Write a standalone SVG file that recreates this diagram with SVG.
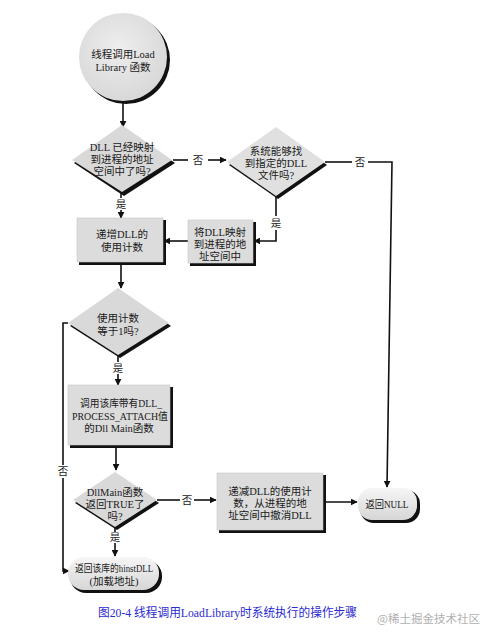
<svg xmlns="http://www.w3.org/2000/svg" width="482" height="641" viewBox="0 0 482 641">
<defs>
<style>
.t{font-family:"Liberation Serif","Noto Sans CJK SC",serif;font-size:10.5px;fill:#1a1a1a;text-anchor:middle}
.l{font-family:"Liberation Serif","Noto Sans CJK SC",serif;font-size:10.5px;fill:#1a1a1a;text-anchor:middle}
.ln{stroke:#111;stroke-width:1.6;fill:none}
.sh{fill:#111}
.bx{fill:#dcdcdc;stroke:#c8c8c8;stroke-width:0.6}
.dm{fill:#d9d9d9}
.cap{font-family:"Liberation Serif","Noto Sans CJK SC",serif;font-size:12px;fill:#2a2ad0}
.wm{font-family:"Noto Sans CJK SC","Liberation Sans",sans-serif;font-size:11.5px;fill:#b0b0b0}
</style>
<radialGradient id="cg" cx="0.45" cy="0.4" r="0.6">
<stop offset="0" stop-color="#eeeeee"/><stop offset="1" stop-color="#d8d8d8"/>
</radialGradient>
<linearGradient id="rg" x1="0" y1="0" x2="0" y2="1">
<stop offset="0" stop-color="#f6f6f6"/><stop offset="1" stop-color="#d6d6d6"/>
</linearGradient>
<marker id="ar" viewBox="0 0 10 10" refX="9" refY="5" markerWidth="7" markerHeight="7" orient="auto" markerUnits="userSpaceOnUse">
<path d="M0,0 L10,5 L0,10 z" fill="#111"/>
</marker>
</defs>
<rect width="482" height="641" fill="#fff"/>

<g id="connectors">
<path class="ln" d="M123,101 V127" marker-end="url(#ar)"/>
<path class="ln" d="M173,160 H188"/>
<path class="ln" d="M208,160 H226" marker-end="url(#ar)"/>
<path class="ln" d="M325,162 H352"/>
<path class="ln" d="M368,162 H392 L387,487" marker-end="url(#ar)"/>
<path class="ln" d="M276,197 V216"/>
<path class="ln" d="M276,230 V241 H254" marker-end="url(#ar)"/>
<path class="ln" d="M188,241 H164" marker-end="url(#ar)"/>
<path class="ln" d="M121,193 V198"/>
<path class="ln" d="M121,210 V218" marker-end="url(#ar)"/>
<path class="ln" d="M121,263 V288" marker-end="url(#ar)"/>
<path class="ln" d="M68,323 H63 V465"/>
<path class="ln" d="M63,478 V571 H69" marker-end="url(#ar)"/>
<path class="ln" d="M118,356 V362"/>
<path class="ln" d="M118,374 V385" marker-end="url(#ar)"/>
<path class="ln" d="M116,446 V470" marker-end="url(#ar)"/>
<path class="ln" d="M157,500 H180"/>
<path class="ln" d="M194,500 H216" marker-end="url(#ar)"/>
<path class="ln" d="M115,528 V532"/>
<path class="ln" d="M115,543 V556" marker-end="url(#ar)"/>
<path class="ln" d="M324,502 H357" marker-end="url(#ar)"/>
<text class="l" x="198" y="164">否</text>
<text class="l" x="360" y="166">否</text>
<text class="l" x="276" y="227">是</text>
<text class="l" x="121" y="208">是</text>
<text class="l" x="63" y="475">否</text>
<text class="l" x="118" y="372">是</text>
<text class="l" x="187" y="504">否</text>
<text class="l" x="115" y="541">是</text>
</g>

<g id="start">
<circle class="sh" cx="126" cy="60" r="44"/>
<circle cx="123" cy="57" r="44" fill="url(#cg)"/>
<text class="t" x="123" y="58">线程调用Load</text>
<text class="t" x="123" y="71">Library 函数</text>
</g>

<g id="d1">
<polygon class="sh" points="124,128 175,163 124,196 74,163"/>
<polygon class="dm" points="122,125 172,160 122,192 72,160"/>
<text class="t" x="122" y="151">DLL 已经映射</text>
<text class="t" x="122" y="163">到进程的地址</text>
<text class="t" x="122" y="175">空间中了吗?</text>
</g>

<g id="d2">
<polygon class="sh" points="278,130 327,165 278,199 229,165"/>
<polygon fill="#e0e0e0" points="276,127 325,162 276,196 227,162"/>
<text class="t" x="276" y="155">系统能够找</text>
<text class="t" x="276" y="167">到指定的DLL</text>
<text class="t" x="276" y="179">文件吗?</text>
</g>

<g id="b2">
<rect class="sh" x="190" y="222" width="66" height="44"/>
<rect class="bx" x="188" y="220" width="65" height="43"/>
<text class="t" x="220" y="236">将DLL映射</text>
<text class="t" x="220" y="248">到进程的地</text>
<text class="t" x="220" y="260">址空间中</text>
</g>

<g id="b1">
<rect class="sh" x="79" y="220" width="87" height="45"/>
<rect class="bx" x="77" y="218" width="86" height="44"/>
<text class="t" x="122" y="238">递增DLL的</text>
<text class="t" x="122" y="251">使用计数</text>
</g>

<g id="d3">
<polygon class="sh" points="120,291 171,326 120,358 70,326"/>
<polygon class="dm" points="118,288 169,323 118,355 68,323"/>
<text class="t" x="118" y="322">使用计数</text>
<text class="t" x="118" y="335">等于1吗?</text>
</g>

<g id="b3">
<rect class="sh" x="70" y="387" width="103" height="61"/>
<rect class="bx" x="68" y="385" width="102" height="60"/>
<text class="t" x="121" y="407" textLength="82" lengthAdjust="spacingAndGlyphs">调用该库带有DLL_</text>
<text class="t" x="120" y="420" textLength="96" lengthAdjust="spacingAndGlyphs">PROCESS_ATTACH值</text>
<text class="t" x="119" y="432">的Dll Main函数</text>
</g>

<g id="d4">
<polygon class="sh" points="117,475 159,503 117,530 75,503"/>
<polygon class="dm" points="115,472 157,500 115,527 73,500"/>
<text class="t" x="115" y="496">DllMain函数</text>
<text class="t" x="115" y="508">返回TRUE了</text>
<text class="t" x="115" y="520">吗?</text>
</g>

<g id="ret1">
<rect class="sh" x="70" y="560" width="92" height="33" rx="16"/>
<rect x="68" y="557" width="91" height="33" rx="16" fill="url(#rg)"/>
<text class="t" x="114" y="572" textLength="78" lengthAdjust="spacingAndGlyphs">返回该库的hinstDLL</text>
<text class="t" x="114" y="585">(加载地址)</text>
</g>

<g id="b4">
<rect class="sh" x="219" y="475" width="107" height="58"/>
<rect class="bx" x="217" y="473" width="106" height="57"/>
<text class="t" x="270" y="495">递减DLL的使用计</text>
<text class="t" x="270" y="507">数，从进程的地</text>
<text class="t" x="270" y="519">址空间中撤消DLL</text>
</g>

<g id="ret2">
<rect class="sh" x="360" y="490" width="60" height="33" rx="14"/>
<rect x="358" y="488" width="59" height="32" rx="14" fill="url(#rg)"/>
<text class="t" x="387" y="508" textLength="43" lengthAdjust="spacingAndGlyphs">返回NULL</text>
</g>

<text class="cap" x="98" y="617" textLength="259" lengthAdjust="spacingAndGlyphs">图20-4  线程调用LoadLibrary时系统执行的操作步骤</text>
<text class="wm" x="377" y="623">@稀土掘金技术社区</text>
</svg>
